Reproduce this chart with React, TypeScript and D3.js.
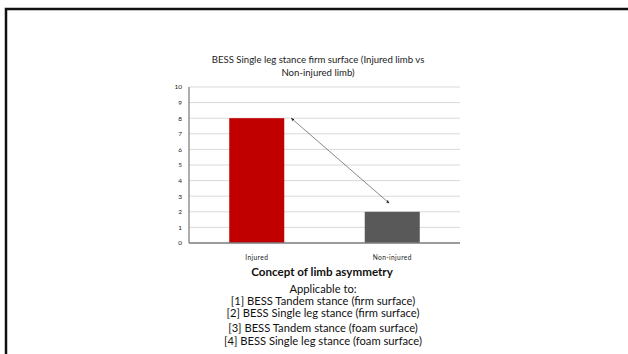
import React from "react";
import * as d3 from "d3";

const categories = ["Injured", "Non-injured"];
const values = [8, 2];
const barColors = ["#c00000", "#595959"];
const yTicks = [0, 1, 2, 3, 4, 5, 6, 7, 8, 9, 10];
const titleLines = ["BESS Single leg stance firm surface (Injured limb vs", "Non-injured limb)"];
const captionTitle = "Concept of limb asymmetry";
const captionLines = [
  "Applicable to:",
  "[1] BESS Tandem stance (firm surface)",
  "[2] BESS Single leg stance (firm surface)",
  "[3] BESS Tandem stance (foam surface)",
  "[4] BESS Single leg stance (foam surface)",
];

const W = 628;
const H = 354;
const plot = { left: 189, right: 460, top: 87, bottom: 243 };
const font = "Lato, 'Open Sans', sans-serif";

export default function App() {
  const x = d3.scaleBand<string>().domain(categories).range([plot.left, plot.right]).padding(0);
  const y = d3.scaleLinear().domain([0, 10]).range([plot.bottom, plot.top]);
  const barW = x.bandwidth() * 0.406;
  const barX = (c: string) => (x(c) as number) + (x.bandwidth() - barW) / 2;

  // double-headed arrow between the two bar tops
  const ax1 = barX(categories[0]) + barW + 7;
  const ay1 = y(values[0]);
  const ax2 = barX(categories[1]) + barW / 2 - 3;
  const ay2 = y(values[1] + 0.55);

  const captionY = [289, 301, 313, 328, 341];

  return (
    <svg
      width={W}
      height={H}
      style={{ position: "absolute", left: 0, top: 0, background: "#fff" }}
      fontFamily={font}
    >
      <defs>
        <marker id="ah" viewBox="0 0 10 10" refX="9" refY="5" markerWidth="5" markerHeight="5" orient="auto-start-reverse">
          <path d="M0,1 L10,5 L0,9 z" fill="#222" />
        </marker>
      </defs>
      {/* frame */}
      <path d={`M6,${H + 5} L6,9 L${W + 5},9`} fill="none" stroke="#111" strokeWidth={2.5} />

      {titleLines.map((t, i) => (
        <text key={t} x={318} y={63 + i * 13} textAnchor="middle" fontSize={9.6} fill="#222">
          {t}
        </text>
      ))}

      {/* gridlines */}
      {yTicks.map((t) => (
        <line key={t} x1={plot.left} x2={plot.right} y1={y(t)} y2={y(t)} stroke="#d9d9d9" strokeWidth={1} />
      ))}
      {yTicks.map((t) => (
        <text key={"l" + t} x={182} y={y(t) + 2.3} textAnchor="end" fontSize={6.5} fill="#222">
          {t}
        </text>
      ))}

      {categories.map((c, i) => (
        <rect key={c} x={barX(c)} y={y(values[i])} width={barW} height={y(0) - y(values[i])} fill={barColors[i]} />
      ))}

      {/* axes */}
      <line x1={plot.left} x2={plot.left} y1={plot.top} y2={plot.bottom} stroke="#808080" strokeWidth={1.3} />
      <line x1={plot.left} x2={plot.right} y1={plot.bottom} y2={plot.bottom} stroke="#808080" strokeWidth={1.3} />

      {categories.map((c) => (
        <text
          key={"x" + c}
          x={(x(c) as number) + x.bandwidth() / 2}
          y={260}
          textAnchor="middle"
          fontSize={6.6}
          letterSpacing={0.4}
          fill="#222"
        >
          {c}
        </text>
      ))}

      <line
        x1={ax1}
        y1={ay1}
        x2={ax2}
        y2={ay2}
        stroke="#555"
        strokeWidth={0.7}
        markerStart="url(#ah)"
        markerEnd="url(#ah)"
      />

      <text x={322} y={276} textAnchor="middle" fontSize={11.6} fontWeight="bold" fill="#111">
        {captionTitle}
      </text>
      {captionLines.map((t, i) => (
        <text key={t} x={323} y={captionY[i] + 3.5} textAnchor="middle" fontSize={11.2} fill="#111">
          {t}
        </text>
      ))}
    </svg>
  );
}
